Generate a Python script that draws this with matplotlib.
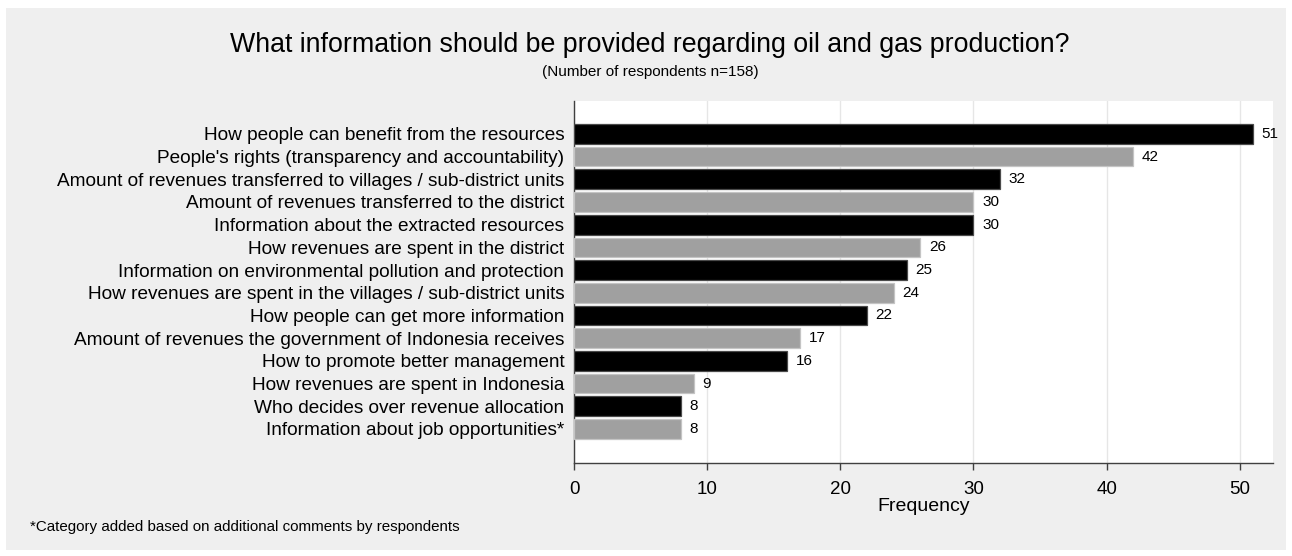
import matplotlib
matplotlib.use("Agg")
import matplotlib.pyplot as plt
from matplotlib.patches import Rectangle

plt.rcParams['font.family'] = ['Liberation Sans', 'DejaVu Sans']

categories = [
    "How people can benefit from the resources",
    "People's rights (transparency and accountability)",
    "Amount of revenues transferred to villages / sub-district units",
    "Amount of revenues transferred to the district",
    "Information about the extracted resources",
    "How revenues are spent in the district",
    "Information on environmental pollution and protection",
    "How revenues are spent in the villages / sub-district units",
    "How people can get more information",
    "Amount of revenues the government of Indonesia receives",
    "How to promote better management",
    "How revenues are spent in Indonesia",
    "Who decides over revenue allocation",
    "Information about job opportunities*",
]
values = [51, 42, 32, 30, 30, 26, 25, 24, 22, 17, 16, 9, 8, 8]
xticks = [0, 10, 20, 30, 40, 50]

W, H = 1292, 556
fig = plt.figure(figsize=(W / 100, H / 100), dpi=100)
fig.patch.set_facecolor('white')
bg = Rectangle((6 / W, 6 / H), (W - 12) / W, (H - 14) / H,
               transform=fig.transFigure, facecolor='#efefef',
               edgecolor='none', zorder=-10)
fig.patches.append(bg)

ax = fig.add_axes([574 / W, 1 - 463 / H, (1273 - 574) / W, (463 - 101) / H])
ax.set_facecolor('white')

n = len(categories)
ypos = list(range(n))
for i, (c, v) in enumerate(zip(categories, values)):
    black = (i % 2 == 0)
    ax.barh(i, v, height=0.87, color='black' if black else '#a0a0a0',
            edgecolor='#4a4a4a' if black else '#c4c4c4', linewidth=0.9, zorder=3)
    ax.text(v + 0.65, i, str(v), va='center', ha='left', fontsize=11, color='black')

ax.set_yticks(ypos)
ax.set_yticklabels(categories, fontsize=13.7)
ax.set_ylim(n - 1 + 1.5, -1.45)
ax.set_xlim(0, 52.5)
ax.set_xticks(xticks)
ax.set_xticklabels([str(t) for t in xticks], fontsize=13.5)
ax.tick_params(axis='y', length=0, pad=7)
ax.tick_params(axis='x', length=5, width=1, color='#404040', pad=8)
ax.set_xlabel("Frequency", fontsize=14, labelpad=0)
ax.grid(axis='x', color='#e6e6e6', linewidth=1, zorder=0)
ax.set_axisbelow(True)
for s in ['top', 'right']:
    ax.spines[s].set_visible(False)
for s in ['left', 'bottom']:
    ax.spines[s].set_color('#404040')
    ax.spines[s].set_linewidth(1)

fig.text(650 / W, 1 - 45 / H,
         "What information should be provided regarding oil and gas production?",
         ha='center', va='center', fontsize=19.3)
fig.text(650 / W, 1 - 72 / H, "(Number of respondents n=158)",
         ha='center', va='center', fontsize=11)
fig.text(30 / W, 1 - 527 / H,
         "*Category added based on additional comments by respondents",
         ha='left', va='center', fontsize=10.9)

fig.savefig("out.png", dpi=100, facecolor=fig.get_facecolor())
